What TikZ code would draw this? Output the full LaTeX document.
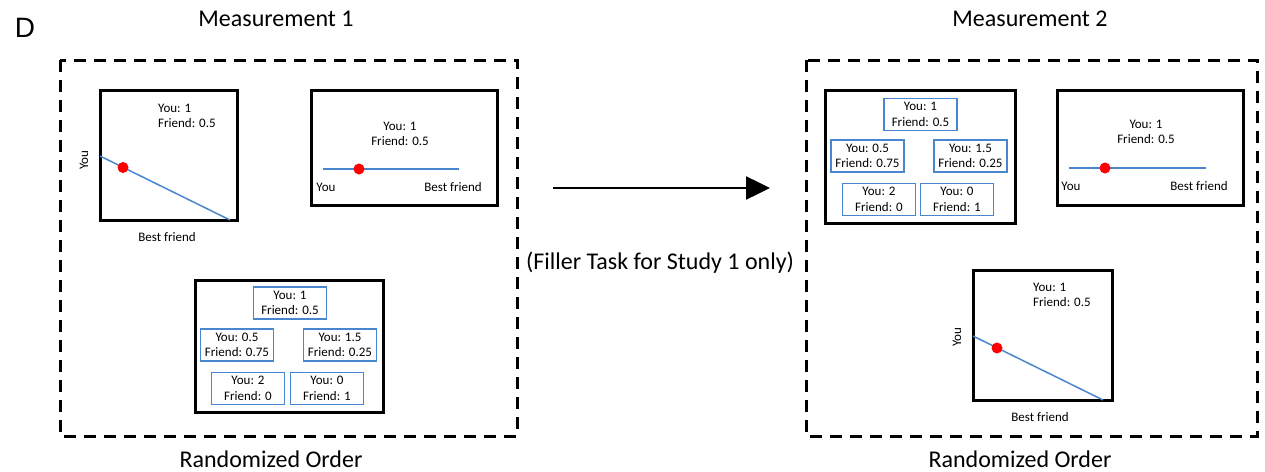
\documentclass[tikz,border=0pt]{standalone}
\usepackage{fontspec}
\setmainfont{Carlito}
\newfontfamily\arialfont{Liberation Sans}
\usetikzlibrary{arrows.meta}
\definecolor{optblue}{RGB}{74,134,205}
\definecolor{dotred}{RGB}{255,0,0}
\tikzset{
  dashbox/.style={draw, line width=3pt, dash pattern=on 12pt off 8pt},
  panelbox/.style={draw, line width=3pt, inner sep=0pt},
  choice/.style={draw=optblue, line width=1.4pt, minimum width=73pt, minimum height=32pt, inner sep=0pt, align=center, font=\fontsize{13}{15.5}\selectfont},
  smalltxt/.style={font=\fontsize{13}{15}\selectfont, inner sep=0pt},
  bigtxt/.style={font=\fontsize{24}{27}\selectfont, inner sep=0pt},
  slider/.style={draw=optblue, line width=1.5pt},
  reddot/.style={circle, fill=dotred, minimum size=11pt, inner sep=0pt},
}
\begin{document}
\begin{tikzpicture}[x=1pt, y=-1pt]
\useasboundingbox (0,0) rectangle (1265,471);

% panel label
\node[font=\arialfont\fontsize{28}{30}\selectfont, inner sep=0pt] (lab) at (25,28) {D};

% headings
\node[bigtxt] (m1) at (276,19) {Measurement 1};
\node[bigtxt] (m2) at (1030,19) {Measurement 2};
\node[bigtxt] (r1) at (271,459) {Randomized Order};
\node[bigtxt] (r2) at (1020,459) {Randomized Order};

% dashed containers
\draw[dashbox] (60,60) rectangle (517,436);
\draw[dashbox] (806,60) rectangle (1257,436);

% ---------- Measurement 1 ----------
% L1: 2D graph
\node[panelbox, minimum width=137pt, minimum height=130pt] (L1) at (168.5,155) {};
\node[smalltxt, anchor=west, align=left] (L1t) at (158,116) {You: 1\\Friend: 0.5};
\coordinate (L1a) at (100,156);
\coordinate (L1b) at (230,220);
\draw[slider] (L1a) -- (L1b);
\node[reddot] (L1d) at (123,167.5) {};
\node[smalltxt, rotate=90] (L1y) at (84,160) {You};
\node[smalltxt] (L1x) at (167,237) {Best friend};

% L2: slider
\node[panelbox, minimum width=186pt, minimum height=115pt] (L2) at (404,147.5) {};
\node[smalltxt, align=center] (L2t) at (400,134) {You: 1\\Friend: 0.5};
\coordinate (L2a) at (323,169);
\coordinate (L2b) at (459,169);
\draw[slider] (L2a) -- (L2b);
\node[reddot] (L2d) at (359,169) {};
\node[smalltxt] (L2y) at (326,187) {You};
\node[smalltxt] (L2x) at (453,187) {Best friend};

% L3: options
\node[panelbox, minimum width=188pt, minimum height=132pt] (L3) at (289,346) {};
\node[choice] (L3a) at (290,303) {You: 1\\Friend: 0.5};
\node[choice] (L3b) at (237,345) {You: 0.5\\Friend: 0.75};
\node[choice] (L3c) at (340,345) {You: 1.5\\Friend: 0.25};
\node[choice] (L3d) at (248,388.5) {You: 2\\Friend: 0};
\node[choice] (L3e) at (327,388.5) {You: 0\\Friend: 1};

% ---------- arrow ----------
\coordinate (arA) at (553,188);
\coordinate (arB) at (770,188);
\draw[line width=2.5pt, -{Triangle[length=24pt, width=23pt]}] (arA) -- (arB);
\node[bigtxt] (fill) at (660,263) {(Filler Task for Study 1 only)};

% ---------- Measurement 2 ----------
% R1: options
\node[panelbox, minimum width=190pt, minimum height=133pt] (R1) at (920,156.5) {};
\node[choice] (R1a) at (920.5,114.5) {You: 1\\Friend: 0.5};
\node[choice] (R1b) at (867.5,156) {You: 0.5\\Friend: 0.75};
\node[choice] (R1c) at (970.5,156) {You: 1.5\\Friend: 0.25};
\node[choice] (R1d) at (879,199.5) {You: 2\\Friend: 0};
\node[choice] (R1e) at (957,199.5) {You: 0\\Friend: 1};

% R2: slider
\node[panelbox, minimum width=186pt, minimum height=115pt] (R2) at (1150,147.5) {};
\node[smalltxt, align=center] (R2t) at (1146,132) {You: 1\\Friend: 0.5};
\coordinate (R2a) at (1069,168);
\coordinate (R2b) at (1206,168);
\draw[slider] (R2a) -- (R2b);
\node[reddot] (R2d) at (1105,168) {};
\node[smalltxt] (R2y) at (1071,186) {You};
\node[smalltxt] (R2x) at (1199,186) {Best friend};

% R3: 2D graph
\node[panelbox, minimum width=139pt, minimum height=130pt] (R3) at (1042.5,335) {};
\node[smalltxt, anchor=west, align=left] (R3t) at (1033,295) {You: 1\\Friend: 0.5};
\coordinate (R3a) at (973,336);
\coordinate (R3b) at (1103,400);
\draw[slider] (R3a) -- (R3b);
\node[reddot] (R3d) at (997,348) {};
\node[smalltxt, rotate=90] (R3y) at (957,337) {You};
\node[smalltxt] (R3x) at (1040,417) {Best friend};
\end{tikzpicture}
\end{document}
